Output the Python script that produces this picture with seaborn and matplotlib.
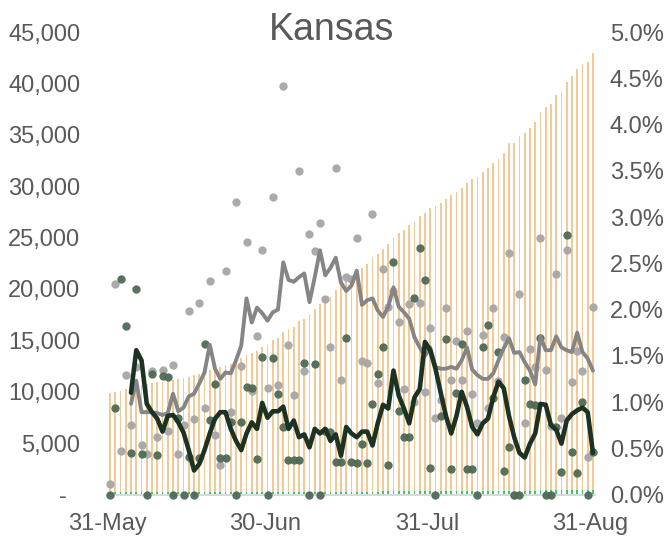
import matplotlib
matplotlib.use("Agg")
import matplotlib.pyplot as plt
import seaborn as sns
import pandas as pd
import numpy as np
from matplotlib.ticker import PercentFormatter, FixedLocator, FixedFormatter

# dias desde 31-May (0) ate 31-Aug (92)
days = list(range(93))
tick_days = [0, 30, 61, 92]
tick_labels = ["31-May", "30-Jun", "31-Jul", "31-Aug"]

# casos acumulados (eixo esquerdo)
cases = [9870, 9960, 10060, 10290, 10450, 10620, 10680, 10780, 10840, 10910,
         10980, 11040, 11100, 11200, 11330, 11430, 11590, 11690, 11920, 12080,
         12240, 12400, 12565, 12680, 13080, 13260, 13620, 13770, 14000, 14370,
         14540, 15010, 15190, 15860, 16120, 16290, 16860, 17090, 17570, 18030,
         18560, 18950, 19250, 19930, 20300, 20750, 21170, 21750, 22080, 22400,
         23080, 23360, 23930, 24420, 24950, 25420, 25710, 26250, 26510, 27060,
         27360, 27850, 28080, 28370, 28800, 29100, 29480, 29835, 30355, 30650,
         30910, 31390, 31720, 32300, 32690, 33240, 34160, 34160, 34870, 35130,
         35680, 36200, 37200, 37660, 37990, 38860, 39120, 40160, 40710, 41360,
         41880, 42050, 42920]

# mortes acumuladas (barras verdes no fundo)
deaths = [208, 208, 209, 210, 210, 211, 212, 212, 213, 214,
          215, 216, 217, 218, 219, 220, 221, 222, 224, 225,
          226, 228, 229, 230, 232, 233, 235, 236, 238, 240,
          242, 244, 246, 248, 250, 252, 254, 256, 258, 260,
          262, 265, 268, 270, 272, 275, 278, 280, 283, 286,
          289, 292, 295, 298, 301, 304, 307, 310, 313, 316,
          320, 323, 326, 330, 333, 337, 340, 344, 347, 350,
          354, 358, 361, 365, 368, 372, 375, 375, 379, 383,
          387, 391, 395, 399, 403, 407, 411, 416, 420, 425,
          430, 434, 440]

# taxa diaria (pontos cinza claro) em %
growth_cases = [0.11, 2.28, 0.47, 1.29, 0.75, 1.38, 0.54, 0.44, 1.34, 0.62,
                1.35, 0.69, 1.40, 0.44, 0.75, 1.98, 0.82, 2.07, 0.94, 2.31,
                0.64, 0.32, 2.42, 0.89, 3.16, 1.39, 2.73, 1.12, 1.71, 2.64,
                1.15, 3.22, 1.18, 4.42, 1.62, 1.08, 3.50, 1.34, 2.82, 2.63,
                2.93, 2.11, 1.59, 3.53, 1.24, 2.35, 2.33, 2.77, 1.44, 1.42,
                3.03, 1.21, 2.44, 2.03, 2.20, 1.87, 1.14, 2.06, 1.00, 2.07,
                1.11, 1.80, 0.83, 1.02, 2.02, 1.24, 1.66, 1.24, 1.77, 1.09,
                0.77, 1.72, 0.93, 2.02, 1.23, 1.70, 2.61, 0.00, 2.17, 0.77,
                1.57, 1.38, 2.77, 1.35, 0.74, 2.38, 0.83, 2.64, 1.22, 1.55,
                1.34, 0.41, 2.03]

# taxa diaria (pontos verde escuro) em %
growth_deaths = [0.00, 0.94, 2.33, 1.82, 0.45, 2.22, 0.44, 0.00, 1.30, 0.43,
                 1.28, 1.27, 0.00, 0.83, 0.00, 0.41, 0.00, 0.40, 1.63, 0.81,
                 1.20, 0.40, 0.40, 0.78, 0.00, 0.78, 1.16, 1.15, 0.38, 1.49,
                 0.00, 1.48, 1.09, 0.73, 0.37, 0.37, 0.37, 1.42, 0.00, 1.41,
                 0.00, 0.69, 0.68, 0.35, 0.35, 1.69, 0.35, 0.34, 0.55, 0.34,
                 0.98, 1.30, 1.59, 0.32, 2.51, 0.90, 0.62, 0.62, 2.12, 2.67,
                 2.32, 0.29, 0.00, 0.85, 1.68, 0.28, 1.10, 1.63, 0.28, 0.28,
                 0.00, 1.59, 1.83, 1.04, 1.54, 0.25, 0.51, 0.00, 0.00, 1.24,
                 0.98, 0.97, 1.69, 0.00, 0.00, 0.73, 0.24, 2.81, 0.46, 0.23,
                 1.00, 0.00, 0.46]

# medias moveis (linhas) em %
avg_cases = [np.nan, np.nan, np.nan, np.nan, 0.98, 1.23, 0.89, 0.89, 0.89, 0.88,
             0.86, 0.88, 1.09, 0.90, 0.94, 1.06, 1.09, 1.20, 1.32, 1.62,
             1.36, 1.25, 1.32, 1.31, 1.45, 1.61, 2.12, 1.86, 2.02, 1.96,
             1.88, 1.97, 2.00, 2.51, 2.32, 2.30, 2.35, 2.39, 2.08, 2.35,
             2.64, 2.37, 2.45, 2.56, 2.29, 2.20, 2.26, 2.42, 2.05, 2.10,
             2.12, 1.99, 1.92, 2.03, 2.24, 2.03, 1.97, 1.90, 1.70, 1.59,
             1.50, 1.59, 1.38, 1.36, 1.36, 1.38, 1.36, 1.45, 1.59, 1.35,
             1.29, 1.25, 1.25, 1.31, 1.45, 1.58, 1.69, 1.53, 1.54, 1.43,
             1.34, 1.19, 1.71, 1.56, 1.56, 1.71, 1.59, 1.56, 1.54, 1.75,
             1.54, 1.47, 1.34]

avg_deaths = [np.nan, np.nan, np.nan, np.nan, 1.10, 1.56, 1.45, 0.98, 0.89, 0.82,
              0.68, 0.85, 0.86, 0.78, 0.67, 0.48, 0.26, 0.33, 0.48, 0.66,
              0.82, 0.89, 0.89, 0.71, 0.58, 0.48, 0.66, 0.78, 0.71, 0.99,
              0.83, 0.90, 0.90, 0.95, 0.71, 0.80, 0.62, 0.65, 0.51, 0.71,
              0.66, 0.71, 0.58, 0.65, 0.42, 0.73, 0.66, 0.62, 0.68, 0.68,
              0.53, 0.77, 0.97, 0.93, 1.34, 1.07, 0.93, 0.77, 1.05, 1.14,
              1.65, 1.56, 1.36, 1.10, 0.85, 0.66, 0.85, 1.11, 0.95, 0.73,
              0.65, 0.77, 0.82, 1.05, 1.22, 1.15, 0.85, 0.62, 0.45, 0.40,
              0.55, 0.66, 0.98, 0.97, 0.75, 0.70, 0.55, 0.80, 0.87, 0.91,
              0.94, 0.89, 0.45]

df = pd.DataFrame({
    "day": days,
    "cases": cases,
    "deaths": deaths,
    "g_cases": np.array(growth_cases) / 100,
    "g_deaths": np.array(growth_deaths) / 100,
    "a_cases": np.array(avg_cases) / 100,
    "a_deaths": np.array(avg_deaths) / 100,
})

sns.set_style("white")
plt.rcParams["font.family"] = ["Liberation Sans", "DejaVu Sans"]
txt = "#595959"

fig = plt.figure(figsize=(6.68, 5.37), dpi=100)
ax = fig.add_axes([0.160, 0.0791, 0.730, 0.8613])

ax.bar(df["day"], df["cases"], width=0.34, color="#f5c995", linewidth=0, zorder=1)
ax.bar(df["day"], df["deaths"], width=0.34, color="#38c96a", linewidth=0, zorder=2)

ax.set_xlim(-0.6, 92.3)
ax.set_ylim(0, 45000)
ax.set_yticks(range(0, 45001, 5000))
ax.set_yticklabels(["-  "] + [f"{v:,}" for v in range(5000, 45001, 5000)])
ax.xaxis.set_major_locator(FixedLocator([d - 0.55 for d in tick_days]))
ax.xaxis.set_major_formatter(FixedFormatter(tick_labels))

for s in ["top", "left", "right"]:
    ax.spines[s].set_visible(False)
ax.spines["bottom"].set_color("#d9d9d9")
ax.spines["bottom"].set_linewidth(1.5)
ax.tick_params(axis="y", length=0, pad=19, labelsize=17, labelcolor=txt)
ax.tick_params(axis="x", length=3.5, width=1.2, color="#d9d9d9", pad=10,
               labelsize=17, labelcolor=txt)

ax2 = ax.twinx()
sns.scatterplot(data=df, x="day", y="g_cases", ax=ax2, color="#a6a6a6", s=36,
                linewidth=0, alpha=0.95, clip_on=False, zorder=3)
sns.scatterplot(data=df, x="day", y="g_deaths", ax=ax2, color="#4e6a55", s=36,
                linewidth=0, alpha=0.95, clip_on=False, zorder=4)
sns.lineplot(data=df, x="day", y="a_cases", ax=ax2, color="#858585", lw=2.8,
             errorbar=None, zorder=5)
sns.lineplot(data=df, x="day", y="a_deaths", ax=ax2, color="#1c3323", lw=3.3,
             errorbar=None, zorder=6)

ax2.set_ylim(0, 0.05)
ax2.set_yticks(np.arange(0, 0.0501, 0.005))
ax2.yaxis.set_major_formatter(PercentFormatter(xmax=1, decimals=1))
for s in ax2.spines.values():
    s.set_visible(False)
ax2.tick_params(axis="y", length=0, pad=11, labelsize=17, labelcolor=txt)
ax2.set_xlabel("")
ax2.set_ylabel("")
ax.set_xlabel("")
ax.set_ylabel("")
ax.set_xlim(-0.6, 92.3)

fig.text(0.497, 0.945, "Kansas", fontsize=27, color=txt, ha="center", va="center")

fig.savefig("out.png", dpi=100)
